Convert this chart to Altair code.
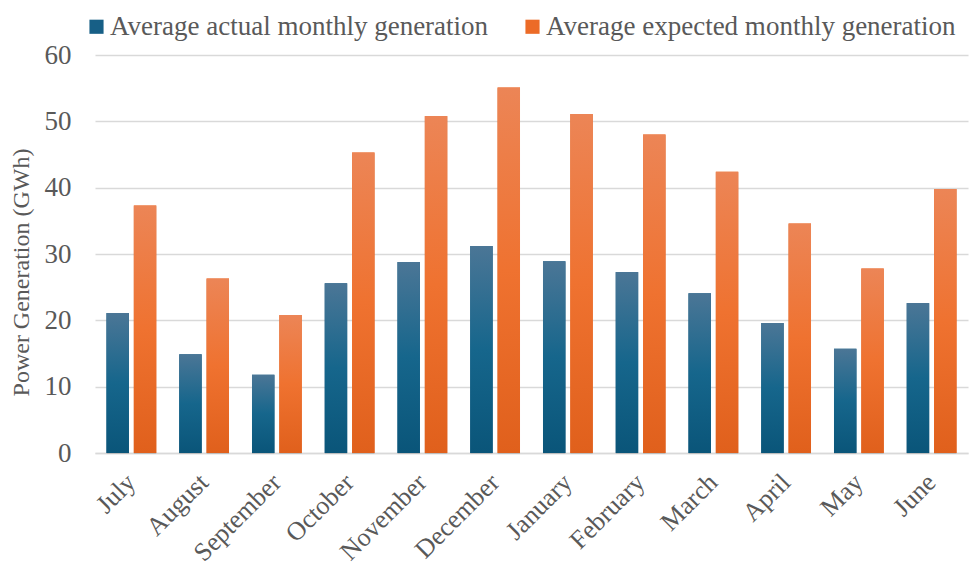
import altair as alt
import pandas as pd

months = ["July", "August", "September", "October", "November", "December",
          "January", "February", "March", "April", "May", "June"]
actual = [21.1, 14.9, 11.8, 25.6, 28.8, 31.2, 28.9, 27.3, 24.1, 19.6, 15.7, 22.6]
expected = [37.3, 26.3, 20.8, 45.3, 50.8, 55.1, 51.1, 48.0, 42.4, 34.6, 27.8, 39.8]
series_names = ["Average actual monthly generation", "Average expected monthly generation"]
series_colors = ["#175f86", "#ec6b27"]

rows = []
for m, a, e in zip(months, actual, expected):
    rows.append({"month": m, "series": series_names[0], "value": a})
    rows.append({"month": m, "series": series_names[1], "value": e})
df = pd.DataFrame(rows)

FONT = "Liberation Serif"
TEXT_GRAY = "#595959"

x_enc = alt.X("month:N", sort=months, title=None,
              scale=alt.Scale(paddingInner=0.316, paddingOuter=0.158),
              axis=alt.Axis(labelAngle=-45, labelFont=FONT, labelFontSize=26,
                            labelColor=TEXT_GRAY, labelAlign="right",
                            labelBaseline="middle", labelPadding=25,
                            ticks=False, domain=True, domainColor="#d9d9d9",
                            domainWidth=1.5, grid=False))
xo_enc = alt.XOffset("series:N", sort=series_names,
                     scale=alt.Scale(domain=series_names, paddingInner=0.18, paddingOuter=0))
y_enc = alt.Y("value:Q", title="Power Generation (GWh)",
              scale=alt.Scale(domain=[0, 60], nice=False),
              axis=alt.Axis(values=[0, 10, 20, 30, 40, 50, 60], labelFont=FONT,
                            labelFontSize=27, labelColor=TEXT_GRAY, labelPadding=24,
                            ticks=False, domain=False, gridColor="#d9d9d9",
                            gridWidth=1.5, titleFont=FONT, titleFontSize=24,
                            titleFontWeight="normal", titleColor=TEXT_GRAY,
                            titlePadding=11, titleY=217))

# solid bars that carry the legend
base = alt.Chart(df).mark_bar().encode(
    x=x_enc, xOffset=xo_enc, y=y_enc,
    color=alt.Color("series:N", sort=series_names,
                    scale=alt.Scale(domain=series_names, range=series_colors),
                    legend=alt.Legend(title=None, orient="none", direction="horizontal",
                                      legendX=-12, legendY=-42,
                                      symbolType="square", symbolSize=200,
                                      symbolStrokeWidth=0, symbolOpacity=1,
                                      labelFont=FONT, labelFontSize=27,
                                      labelColor=TEXT_GRAY, columnPadding=30,
                                      labelLimit=600, labelOffset=0)),
)

# soft drop shadow behind each bar
shadow = alt.Chart(df).mark_bar(color="#000000", opacity=0.13, xOffset=2, yOffset=1).encode(
    x=x_enc, xOffset=xo_enc, y=y_enc)

blue_grad = alt.LinearGradient(
    gradient="linear", x1=0, x2=0, y1=0, y2=1,
    stops=[alt.GradientStop(color="#4b7696", offset=0),
           alt.GradientStop(color="#16668c", offset=0.5),
           alt.GradientStop(color="#0a5579", offset=1)])
orange_grad = alt.LinearGradient(
    gradient="linear", x1=0, x2=0, y1=0, y2=1,
    stops=[alt.GradientStop(color="#ec8556", offset=0),
           alt.GradientStop(color="#ef7230", offset=0.5),
           alt.GradientStop(color="#e0601c", offset=1)])

actual_layer = alt.Chart(df).transform_filter(
    alt.datum.series == series_names[0]
).mark_bar(fill=blue_grad).encode(x=x_enc, xOffset=xo_enc, y=y_enc)

expected_layer = alt.Chart(df).transform_filter(
    alt.datum.series == series_names[1]
).mark_bar(fill=orange_grad).encode(x=x_enc, xOffset=xo_enc, y=y_enc)

chart = alt.layer(shadow, base, actual_layer, expected_layer).properties(
    width=873, height=398,
    autosize=alt.AutoSizeParams(type="none"),
    padding={"left": 95, "top": 55, "right": 3, "bottom": 114},
    background="white",
).configure_view(stroke=None)

chart.save("out.html", embed_options={"renderer": "svg", "actions": False})
